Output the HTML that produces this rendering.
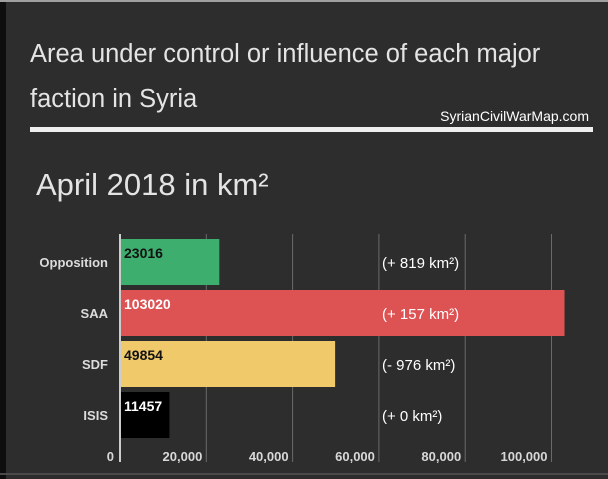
<!DOCTYPE html>
<html><head><meta charset="utf-8"><style>
html,body{margin:0;padding:0;background:#2d2d2d;}
#wrap{position:relative;width:608px;height:479px;overflow:hidden;background:#2d2d2d;font-family:"Liberation Sans",sans-serif;}
</style></head><body>
<div id="wrap">
<svg id="svg" width="608" height="479" xmlns="http://www.w3.org/2000/svg">
<rect x="0" y="0" width="608" height="479" fill="#2d2d2d"/>
<rect x="0" y="0" width="6" height="479" fill="#0e0e0e"/>
<rect x="0" y="0" width="608" height="2" fill="#a0a0a0"/>
<rect x="0" y="473" width="608" height="2" fill="#4a4a4a"/>
<text x="30" y="62" font-size="25.5" fill="#e4e4e4">Area under control or influence of each major</text>
<text x="30" y="107" font-size="25.5" fill="#e4e4e4">faction in Syria</text>
<text x="589" y="121" font-size="14" fill="#ffffff" text-anchor="end">SyrianCivilWarMap.com</text>
<rect x="30" y="127" width="563" height="5" fill="#eeeeee"/>
<text x="36" y="195" font-size="31" fill="#e4e4e4">April 2018 in km²</text>
<g id="grid"></g>
<g id="bars"></g>
<g id="labels"></g>
</svg>
</div>
<script>
const categories = ["Opposition","SAA","SDF","ISIS"];
const values = [23016,103020,49854,11457];
const changes = ["(+ 819 km²)","(+ 157 km²)","(- 976 km²)","(+ 0 km²)"];
const ticks = [0,20000,40000,60000,80000,100000];
const tickLabels = ["0","20,000","40,000","60,000","80,000","100,000"];
const colors = ["#3eae6f","#dd5252","#efc96a","#000000"];
const valueColors = ["#111","#fff","#111","#fff"];

const NS="http://www.w3.org/2000/svg";
const x0=120, pxPer=86.3/20000;
const xs=v=>x0+v*pxPer;
const yTop=i=>239+i*51, bh=46;
function mk(tag,attrs,parent,txt){const e=document.createElementNS(NS,tag);for(const k in attrs)e.setAttribute(k,attrs[k]);if(txt!==undefined)e.textContent=txt;parent.appendChild(e);return e;}
const grid=document.getElementById('grid'),bars=document.getElementById('bars'),labels=document.getElementById('labels');
ticks.forEach((t,i)=>{
  if(i>0){const l=mk('line',{x1:xs(t),x2:xs(t),y1:234,y2:462,stroke:'#6a6a6a','stroke-width':1},grid);
  
  }
  const tx=mk('text',{x:i===0?xs(t)-6:xs(t)-4,y:461,'font-size':13,'font-weight':'bold',fill:'#d8d8d8','text-anchor':'end'},labels,tickLabels[i]);
  
  
});
const ax=mk('line',{x1:x0,x2:x0,y1:234,y2:462,stroke:'#cccccc','stroke-width':2},grid);


categories.forEach((c,i)=>{
  const y=yTop(i);
  const r=mk('rect',{x:x0+1,y:y,width:xs(values[i])-x0-1,height:bh,fill:colors[i]},bars);
  
  
  const cl=mk('text',{x:108,y:y+28,'font-size':13,'font-weight':'bold',fill:'#dcdcdc','text-anchor':'end'},labels,c);
  
  
  const vl=mk('text',{x:124,y:y+19,'font-size':14,'font-weight':'bold',fill:valueColors[i]},labels,String(values[i]));
  
  
  const ch=mk('text',{x:382,y:y+29,'font-size':15,fill:'#ffffff'},labels,changes[i]);
  
  
});
</script>
</body></html>
